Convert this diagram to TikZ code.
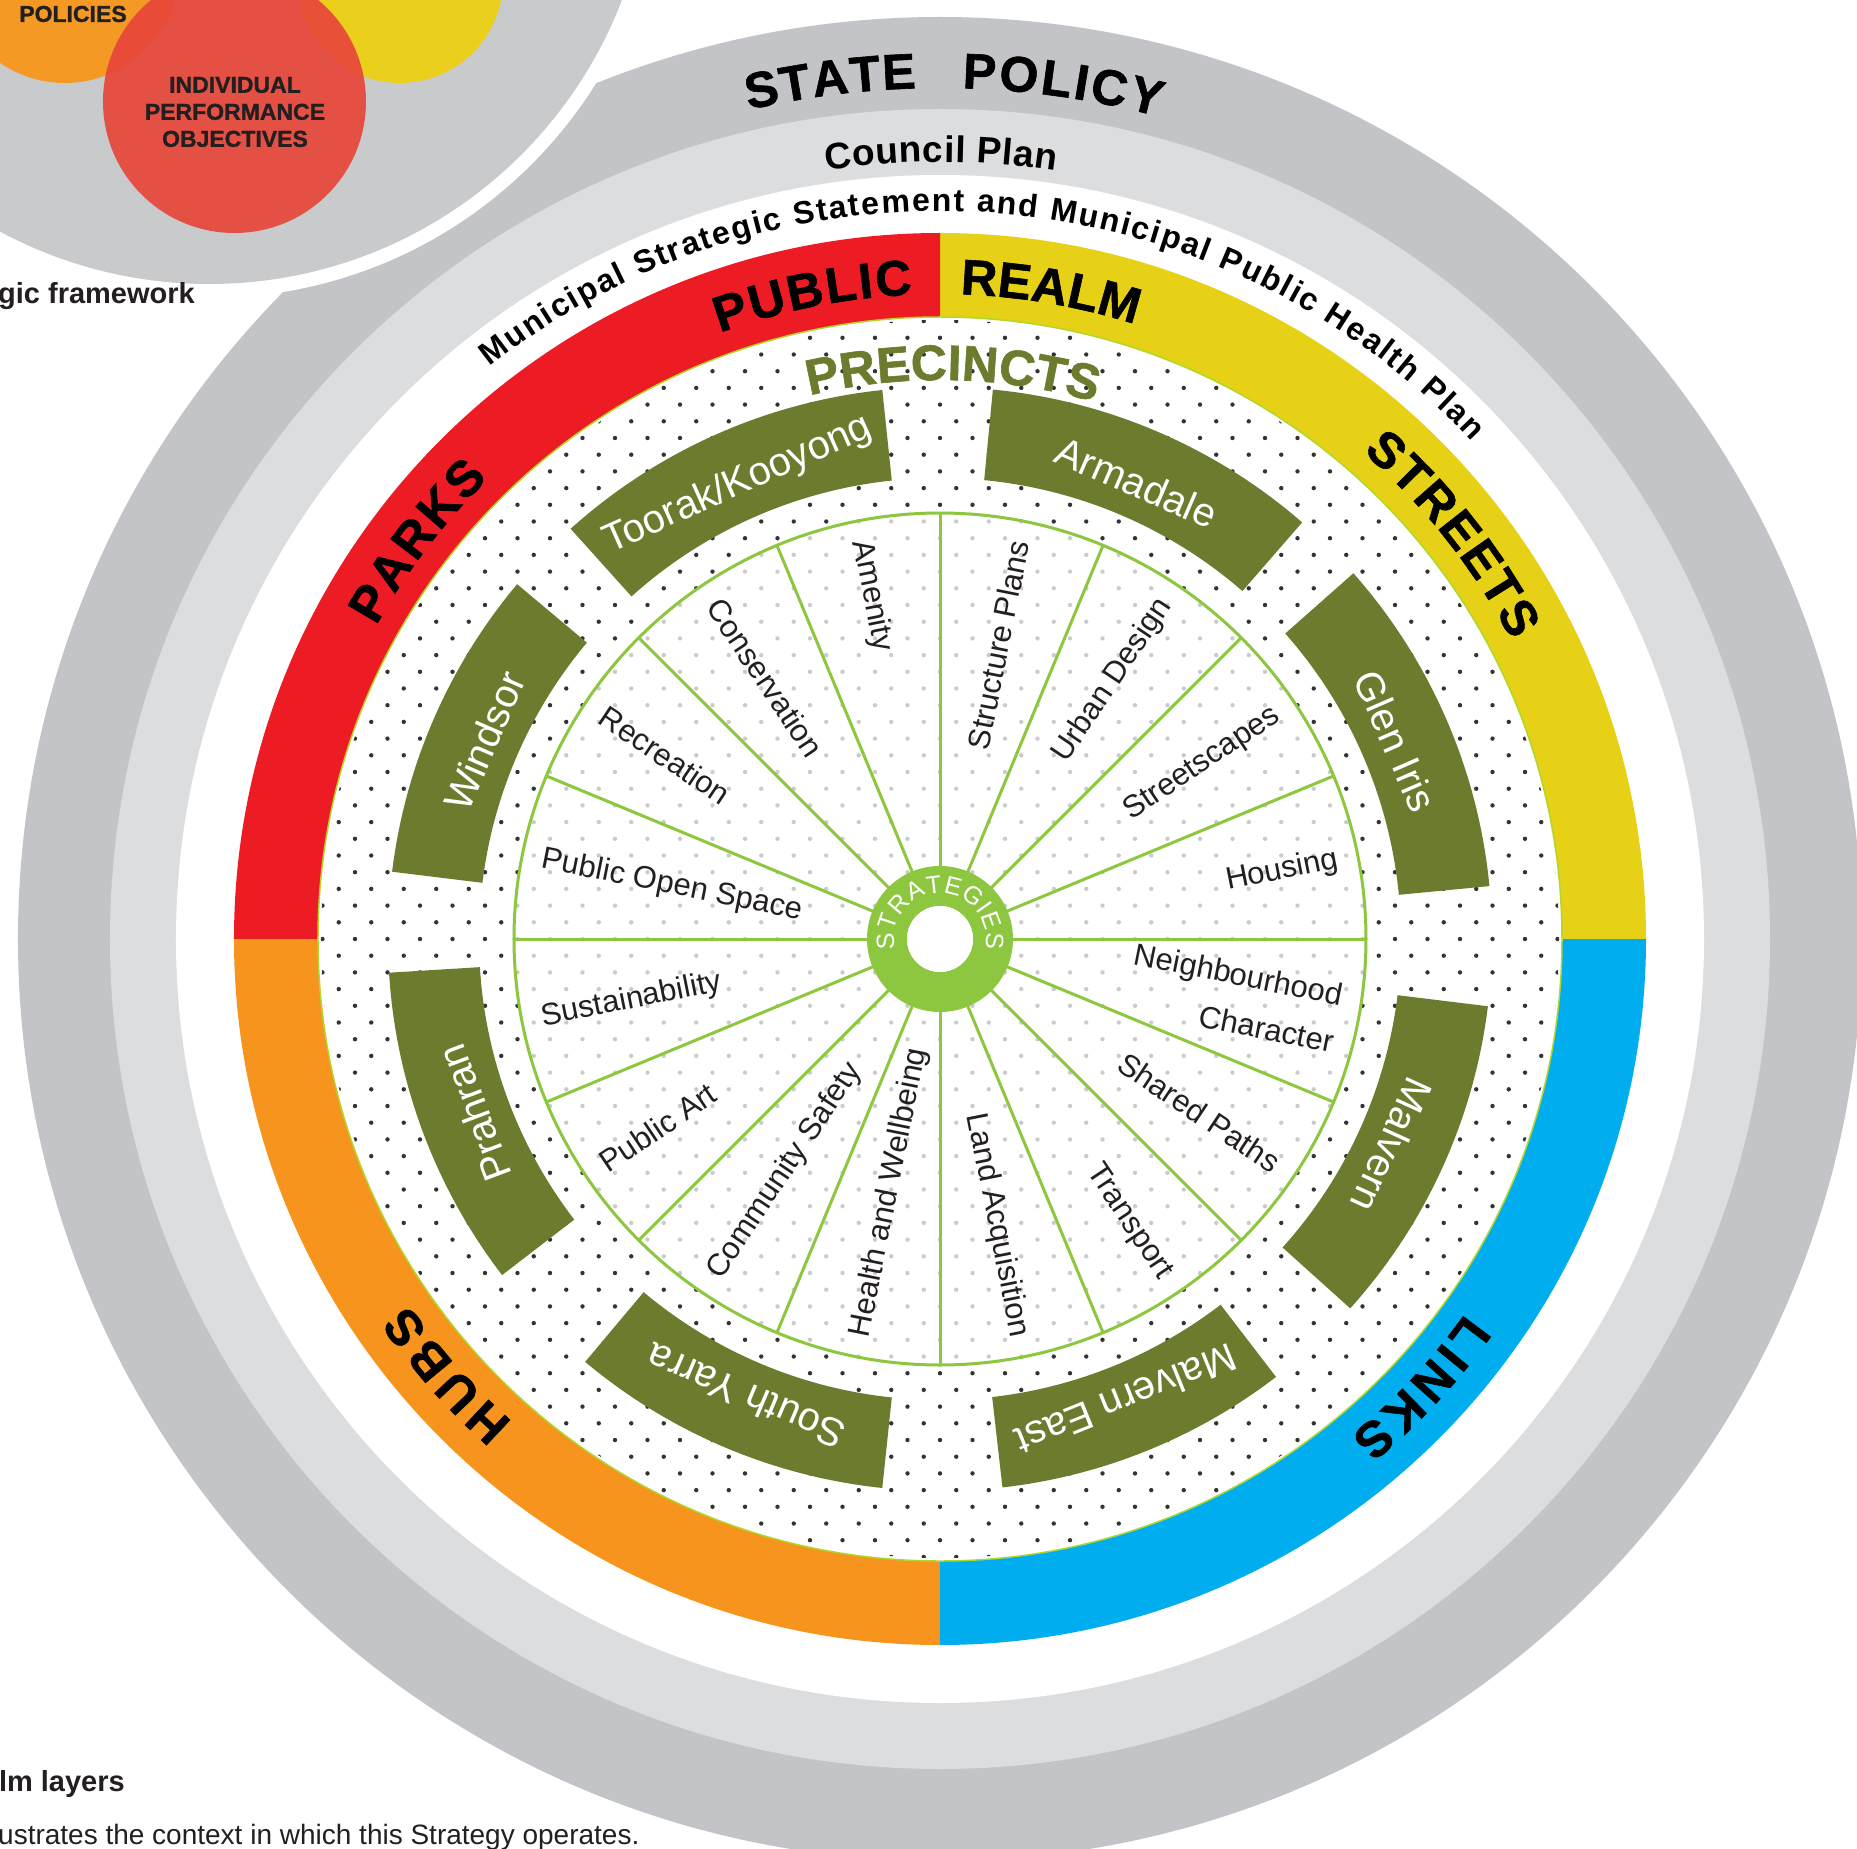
\documentclass[tikz,border=0pt]{standalone}
\usepackage{fontspec}
\setmainfont{Liberation Sans}
\newfontfamily\heavyfont{Liberation Sans}[BoldFeatures={FakeBold=1.2}]
\usetikzlibrary{decorations.text}
\definecolor{ringdark}{HTML}{C3C4C7}
\definecolor{ringlight}{HTML}{DCDDDF}
\definecolor{rred}{HTML}{ED1C24}
\definecolor{ryellow}{HTML}{E6D116}
\definecolor{rorange}{HTML}{F7941E}
\definecolor{rblue}{HTML}{00AEEF}
\definecolor{lgreen}{HTML}{8DC63F}
\definecolor{prec}{HTML}{6B7C2E}
\definecolor{vgray}{HTML}{C9CACC}
\definecolor{vorange}{HTML}{F49A24}
\definecolor{vyellow}{HTML}{EAD01C}
\definecolor{vred}{HTML}{E8463A}
\definecolor{ink}{HTML}{231F20}
\definecolor{dotc}{HTML}{333333}

% #1 baseline radius, #2 centre angle, #3 angular span, #4 font, #5 text, #6 colour
\newcommand\arctext[6]{%
  \path[decorate,decoration={text along path,text={|#4|#5},text align=fit to path,text color=#6}]
    ({(#2)+(#3)/2}:#1) arc[start angle={(#2)+(#3)/2},end angle={(#2)-(#3)/2},radius=#1];
}
\newcommand\fbig{\heavyfont\bfseries\fontsize{50}{58}\selectfont}
\newcommand\fband{\heavyfont\bfseries\fontsize{50}{58}\selectfont}
\newcommand\fcouncil{\bfseries\fontsize{37}{43}\selectfont}
\newcommand\fmuni{\bfseries\fontsize{32}{38}\selectfont}
\newcommand\fprec{\heavyfont\bfseries\fontsize{50}{58}\selectfont}
\newcommand\fstrat{\fontsize{25}{29}\selectfont}

\tikzset{
  slabel/.style={font=\fontsize{31}{48}\selectfont,text=ink,inner sep=0pt},
  ptext/.style={font=\fontsize{40}{46}\selectfont,text=white,inner sep=0pt},
  spoke/.style={lgreen,line width=3pt},
  venntext/.style={font=\heavyfont\bfseries\fontsize{23}{27}\selectfont,text=ink,align=center,inner sep=0pt},
}

\begin{document}
\begin{tikzpicture}[x=1pt,y=1pt]
\useasboundingbox (-940,-909) rectangle (917,939);
\fill[white] (-940,-909) rectangle (917,939);

% outer rings
\fill[ringdark] (0,0) circle (922);
\fill[ringlight] (0,0) circle (830);
\fill[white] (0,0) circle (764);
\fill[ryellow] (0,0) -- (0:706) arc[start angle=0,end angle=90,radius=706] -- cycle;
\fill[rred] (0,0) -- (90:706) arc[start angle=90,end angle=180,radius=706] -- cycle;
\fill[rorange] (0,0) -- (180:706) arc[start angle=180,end angle=270,radius=706] -- cycle;
\fill[rblue] (0,0) -- (270:706) arc[start angle=270,end angle=360,radius=706] -- cycle;
\fill[white] (0,0) circle (622);

% dotted field
\begin{scope}
\clip (0,0) circle (619);
\fill[dotc] \foreach \j in {-38,...,38} { \foreach \i in {-20,...,20} { ({\i*32.5+mod(abs(\j),2)*16.25},{\j*16.7}) circle (2.2) } };
\end{scope}
\draw[lgreen!70!yellow,line width=1.5pt] (0,0) circle (622);
\fill[white,opacity=0.75] (0,0) circle (426);

% strategies wheel
\foreach \a in {0,22.5,...,337.5} \draw[spoke] (\a:70) -- (\a:426);
\draw[spoke] (0,0) circle (426);
\fill[lgreen,even odd rule] (0,0) circle (73) (0,0) circle (33);
\fill[white] (0,0) circle (33);

% precinct boxes
\foreach \s/\e in {96/132,49/84.5,5.5/41.5,-42/-7,-83.5/-52.5,230/264,183.5/217.5,140/173}
  \fill[prec] (\s:461) arc[start angle=\s,end angle=\e,radius=461] -- (\e:552) arc[start angle=\e,end angle=\s,radius=552] -- cycle;

\node[ptext,rotate=24] (p1) at (114:497) {Toorak/Kooyong};
\node[ptext,rotate=-23.3] (p2) at (66.7:497) {Armadale};
\node[ptext,rotate=-66.5] (p3) at (23.5:497) {Glen Iris};
\node[ptext,rotate=-114.5] (p4) at (-24.5:497) {Malvern};
\node[ptext,rotate=-158] (p5) at (-68:497) {Malvern East};
\node[ptext,rotate=157] (p6) at (247:497) {South Yarra};
\node[ptext,rotate=110.5] (p7) at (200.5:497) {Prahran};
\node[ptext,rotate=66.5] (p8) at (156.5:497) {Windsor};

% strategy labels
\node[slabel,anchor=east,rotate=78.75] (s1) at (78.75:406) {Structure Plans};
\node[slabel,anchor=east,rotate=56.25] (s2) at (56.25:406) {Urban Design};
\node[slabel,anchor=east,rotate=33.75] (s3) at (33.75:406) {Streetscapes};
\node[slabel,anchor=east,rotate=11.25] (s4) at (11.25:406) {Housing};
\node[slabel,anchor=east,rotate=-11.25,align=right] (s5) at (-11.25:406) {Neighbourhood\\Character};
\node[slabel,anchor=east,rotate=-33.75] (s6) at (-33.75:406) {Shared Paths};
\node[slabel,anchor=east,rotate=-56.25] (s7) at (-56.25:406) {Transport};
\node[slabel,anchor=east,rotate=-78.75] (s8) at (-78.75:406) {Land Acquisition};
\node[slabel,anchor=west,rotate=-78.75] (s9) at (101.25:406) {Amenity};
\node[slabel,anchor=west,rotate=-56.25] (s10) at (123.75:406) {Conservation};
\node[slabel,anchor=west,rotate=-33.75] (s11) at (146.25:406) {Recreation};
\node[slabel,anchor=west,rotate=-11.25] (s12) at (168.75:406) {Public Open Space};
\node[slabel,anchor=west,rotate=11.25] (s13) at (191.25:406) {Sustainability};
\node[slabel,anchor=west,rotate=33.75] (s14) at (213.75:406) {Public Art};
\node[slabel,anchor=west,rotate=56.25] (s15) at (236.25:406) {Community Safety};
\node[slabel,anchor=west,rotate=78.75] (s16) at (258.75:406) {Health and Wellbeing};

% arc texts
\arctext{851}{97.3}{11.4}{\fbig}{STATE}{black}
\arctext{851}{81.8}{13.4}{\fbig}{POLICY}{black}
\arctext{777}{89.9}{17}{\fcouncil}{Council Plan}{black}
\arctext{728}{85.7}{85}{\fmuni}{Municipal Strategic Statement and Municipal Public Health Plan}{black}
\arctext{645}{101.2}{17.5}{\fband}{PUBLIC}{black}
\arctext{645}{80.3}{15.8}{\fband}{REALM}{black}
\arctext{645}{142.7}{16.5}{\fband}{PARKS}{black}
\arctext{645}{38.3}{21.5}{\fband}{STREETS}{black}
\arctext{645}{221.5}{14}{\fband}{HUBS}{black}
\arctext{645}{317}{15}{\fband}{LINKS}{black}
\arctext{559}{89}{29}{\fprec}{PRECINCTS}{prec}
\arctext{46}{90}{205}{\fstrat}{STRATEGIES}{white}

% neighbouring figure (top left)
\fill[white] (-731,1097) circle (456);
\fill[vgray] (-731,1097) circle (442);
\fill[vorange] (-875,971) circle (115);
\fill[vyellow] (-540,959) circle (103);
\fill[vred,opacity=0.92] (-705.5,837.5) circle (131.5);
\node[venntext] (pol) at (-867,925) {POLICIES};
\node[venntext] (ipo) at (-705,827) {INDIVIDUAL\\PERFORMANCE\\OBJECTIVES};

% captions
\node[anchor=base west,inner sep=0pt,font=\bfseries\fontsize{29}{34}\selectfont,text=ink] (cap1) at (-942,635) {gic framework};
\node[anchor=base east,inner sep=0pt,font=\bfseries\fontsize{29}{34}\selectfont,text=ink] (cap2) at (-815,-852) {alm layers};
\node[anchor=base west,inner sep=0pt,font=\fontsize{28}{34}\selectfont,text=ink] (cap3) at (-942,-905) {ustrates the context in which this Strategy operates.};
\end{tikzpicture}
\end{document}
